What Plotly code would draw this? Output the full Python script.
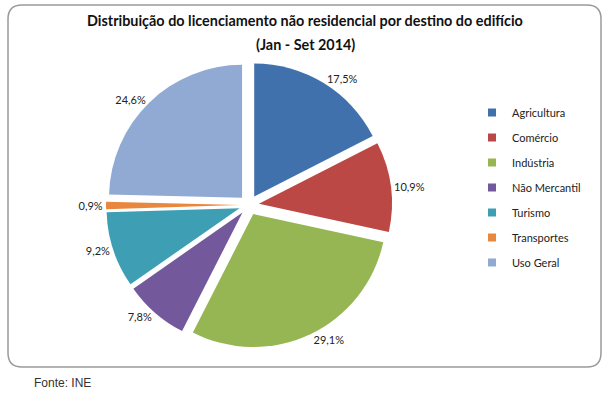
import plotly.graph_objects as go

categories = ["Agricultura", "Comércio", "Indústria", "Não Mercantil", "Turismo", "Transportes", "Uso Geral"]
values = [17.5, 10.9, 29.1, 7.8, 9.2, 0.9, 24.6]
colors = ["#4171AC", "#BB4845", "#95B653", "#73589B", "#3E9FB4", "#EA873F", "#90AAD3"]
text_labels = [f"{v:.1f}%".replace(".", ",") for v in values]

W, H = 610, 398
cx, cy, R, pull = 249, 205, 133, 0.075
half = R * (1 + pull)

fig = go.Figure()
fig.add_trace(go.Pie(
    labels=categories, values=values, sort=False, direction="clockwise", rotation=0,
    marker=dict(colors=colors, line=dict(width=0)),
    pull=[pull] * len(values),
    text=text_labels, textinfo="text", textposition="outside",
    textfont=dict(family="Lato, Open Sans, sans-serif", size=11, color="#222"),
    domain=dict(x=[(cx - half) / W, (cx + half) / W], y=[1 - (cy + half) / H, 1 - (cy - half) / H]),
    hoverinfo="label+percent", showlegend=False,
))

# legend entries (one per category, spaced apart)
for cat, col in zip(categories, colors):
    fig.add_trace(go.Scatter(
        x=[None], y=[None], mode="markers", name=cat, legendgroup=cat,
        marker=dict(symbol="square", size=8, color=col), hoverinfo="skip",
    ))

def px(x): return x / W
def py(y): return 1 - y / H
x0, y0, x1, y1, r = 8, 5, 601, 367, 14
path_p = (f"M {px(x0+r)},{py(y0)} L {px(x1-r)},{py(y0)} Q {px(x1)},{py(y0)} {px(x1)},{py(y0+r)} "
          f"L {px(x1)},{py(y1-r)} Q {px(x1)},{py(y1)} {px(x1-r)},{py(y1)} L {px(x0+r)},{py(y1)} "
          f"Q {px(x0)},{py(y1)} {px(x0)},{py(y1-r)} L {px(x0)},{py(y0+r)} Q {px(x0)},{py(y0)} {px(x0+r)},{py(y0)} Z")

title_font = dict(family="Lato, Open Sans, sans-serif", size=14.4, color="#111")
fig.update_layout(
    width=W, height=H, margin=dict(l=0, r=0, t=0, b=0),
    paper_bgcolor="white", plot_bgcolor="white",
    xaxis=dict(visible=False), yaxis=dict(visible=False),
    legend=dict(x=472 / W, y=1 - 98 / H, xanchor="left", yanchor="top",
                font=dict(family="Lato, Open Sans, sans-serif", size=11, color="#222"),
                itemwidth=30, tracegroupgap=6, bgcolor="rgba(0,0,0,0)"),
    shapes=[dict(type="path", path=path_p, xref="paper", yref="paper",
                 line=dict(color="#9a9a9a", width=1.5), fillcolor="rgba(0,0,0,0)")],
    annotations=[
        dict(text="<b>Distribuição do licenciamento não residencial por destino do edifício</b>",
             x=0.5, y=py(21), xref="paper", yref="paper", xanchor="center", yanchor="middle",
             showarrow=False, font=title_font),
        dict(text="<b>(Jan - Set 2014)</b>",
             x=0.5, y=py(44), xref="paper", yref="paper", xanchor="center", yanchor="middle",
             showarrow=False, font=title_font),
        dict(text="Fonte: INE", x=px(32), y=py(383), xref="paper", yref="paper",
             xanchor="left", yanchor="middle", showarrow=False,
             font=dict(family="Liberation Sans, Arial, sans-serif", size=12, color="#333")),
    ],
)

fig.write_html("out.html", config={"displayModeBar": False},
               post_script="document.body.style.margin='0';document.body.style.overflow='hidden';")
